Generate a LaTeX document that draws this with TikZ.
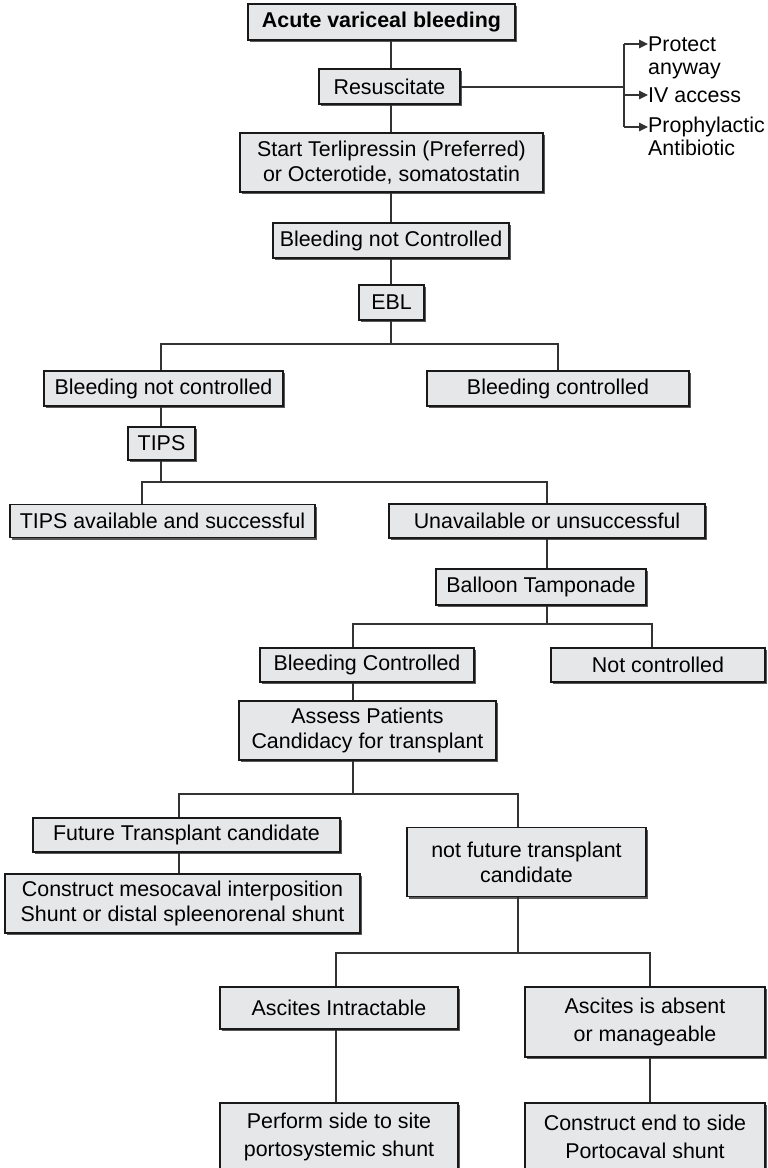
\documentclass[tikz,border=0pt]{standalone}
\usepackage{fontspec}
\setmainfont{Liberation Sans}
\usetikzlibrary{shadows,arrows.meta}
\definecolor{boxfill}{HTML}{E6E7E8}
\definecolor{linec}{HTML}{333333}
\begin{document}
\begin{tikzpicture}[x=1pt,y=-1pt,
  box/.style={draw=black!90, line width=1.1pt, fill=boxfill,
    drop shadow={shadow xshift=2.4pt, shadow yshift=-2.4pt, fill=black!65, opacity=1},
    inner sep=0pt, align=center, font=\fontsize{21.4}{25}\selectfont},
  tall/.style={font=\fontsize{21.4}{28}\selectfont},
  conn/.style={draw=linec, line width=1.2pt},
  arr/.style={conn, -{Triangle[length=9pt,width=8.5pt]}},
  side/.style={inner sep=0pt, align=left, anchor=north west, font=\fontsize{21.4}{23}\selectfont}]
\useasboundingbox (0,0) rectangle (768,1168);
\clip (0,0) rectangle (768,1168);
% nodes
\node[box, minimum width=267pt, minimum height=36pt] (top) at (381.5,22) {\bfseries Acute variceal bleeding};
\node[box, minimum width=141pt, minimum height=35pt] (resus) at (389.5,86.5) {Resuscitate};
\node[box, minimum width=303pt, minimum height=59pt] (terli) at (391.5,162.5) {Start Terlipressin (Preferred)\\or Octerotide, somatostatin};
\node[box, minimum width=236pt, minimum height=35pt] (bnc) at (391,240.5) {Bleeding not Controlled};
\node[box, minimum width=65pt, minimum height=35pt] (ebl) at (391.5,302.5) {EBL};
\node[box, minimum width=239pt, minimum height=35pt] (b6) at (163.5,388.5) {Bleeding not controlled};
\node[box, minimum width=262pt, minimum height=35pt] (b7) at (558,388.5) {Bleeding controlled};
\node[box, minimum width=67pt, minimum height=33pt] (tips) at (161.5,443.5) {TIPS};
\node[box, minimum width=305pt, minimum height=33pt] (ta) at (162.5,521) {TIPS available and successful};
\node[box, minimum width=316pt, minimum height=34pt] (ua) at (547,521) {Unavailable or unsuccessful};
\node[box, minimum width=210pt, minimum height=36pt] (bal) at (541,587) {Balloon Tamponade};
\node[box, minimum width=214pt, minimum height=34pt] (bc) at (367,665) {Bleeding Controlled};
\node[box, minimum width=214pt, minimum height=34pt] (nc) at (658,665) {Not controlled};
\node[box, minimum width=257pt, minimum height=59pt] (ass) at (367.5,730.5) {Assess Patients\\Candidacy for transplant};
\node[box, minimum width=307pt, minimum height=34pt] (ftc) at (186.5,835) {Future Transplant candidate};
\node[box, minimum width=355pt, minimum height=59pt] (meso) at (182.5,903.5) {Construct mesocaval interposition\\Shunt or distal spleenorenal shunt};
\node[box, minimum width=239pt, minimum height=69pt] (nft) at (526.5,862) {not future transplant\\candidate};
\node[box, minimum width=238pt, minimum height=42pt] (ai) at (339,1008) {Ascites Intractable};
\node[box, tall, minimum width=240pt, minimum height=70pt] (aa) at (645,1022) {Ascites is absent\\or manageable};
\node[box, tall, minimum width=238pt, minimum height=68pt] (pf) at (339,1137) {Perform side to site\\portosystemic shunt};
\node[box, tall, minimum width=240pt, minimum height=68pt] (ce) at (645,1137) {Construct end to side\\Portocaval shunt};
% side list
\node[side] (prot) at (648,37) {Protect\\anyway};
\node[side, anchor=west] (iva) at (648,95) {IV access};
\node[side] (pro) at (648,116.5) {Prophylactic\\Antibiotic};
% coordinates
\coordinate (sp) at (391,0);
\coordinate (rj) at (624,87);
\coordinate (a1) at (624,44);
\coordinate (a2) at (624,95);
\coordinate (a3) at (624,127);
\coordinate (b1L) at (161,344);
\coordinate (b1R) at (558,344);
\coordinate (b2L) at (142,482);
\coordinate (b2R) at (547,482);
\coordinate (b3L) at (353,624);
\coordinate (b3R) at (652,624);
\coordinate (b4L) at (179,794);
\coordinate (b4R) at (518,794);
\coordinate (b5L) at (336,953);
\coordinate (b5R) at (650,953);
\coordinate (b5M) at (518,953);
% connectors
\draw[conn] (top.south -| sp) -- (resus.north -| sp);
\draw[conn] (resus.south -| sp) -- (terli.north -| sp);
\draw[conn] (terli.south -| sp) -- (bnc.north -| sp);
\draw[conn] (bnc.south -| sp) -- (ebl.north -| sp);
\draw[conn] (ebl.south -| sp) -- (sp |- b1L);
\draw[conn] (b6.north -| b1L) -- (b1L) -- (b1R) -- (b7.north -| b1R);
\draw[conn] (b6.south -| b1L) -- (tips.north -| b1L);
\draw[conn] (tips.south -| b1L) -- (b1L |- b2L);
\draw[conn] (ta.north -| b2L) -- (b2L) -- (b2R) -- (ua.north -| b2R);
\draw[conn] (ua.south -| b2R) -- (bal.north -| b2R);
\draw[conn] (bal.south -| b2R) -- (b2R |- b3L);
\draw[conn] (bc.north -| b3L) -- (b3L) -- (b3R) -- (nc.north -| b3R);
\draw[conn] (bc.south -| b3L) -- (ass.north -| b3L);
\draw[conn] (ass.south -| b3L) -- (b3L |- b4L);
\draw[conn] (ftc.north -| b4L) -- (b4L) -- (b4R) -- (nft.north -| b4R);
\draw[conn] (ftc.south -| b4L) -- (meso.north -| b4L);
\draw[conn] (nft.south -| b4R) -- (b5M);
\draw[conn] (ai.north -| b5L) -- (b5L) -- (b5R) -- (aa.north -| b5R);
\draw[conn] (ai.south -| b5L) -- (pf.north -| b5L);
\draw[conn] (aa.south -| b5R) -- (ce.north -| b5R);
% side arrows
\draw[conn] (resus.east |- rj) -- (rj);
\draw[conn] (a1) -- (a3);
\draw[arr] (a1) -- (a1 -| prot.west);
\draw[arr] (a2) -- (a2 -| iva.west);
\draw[arr] (a3) -- (a3 -| pro.west);
\end{tikzpicture}
\end{document}
